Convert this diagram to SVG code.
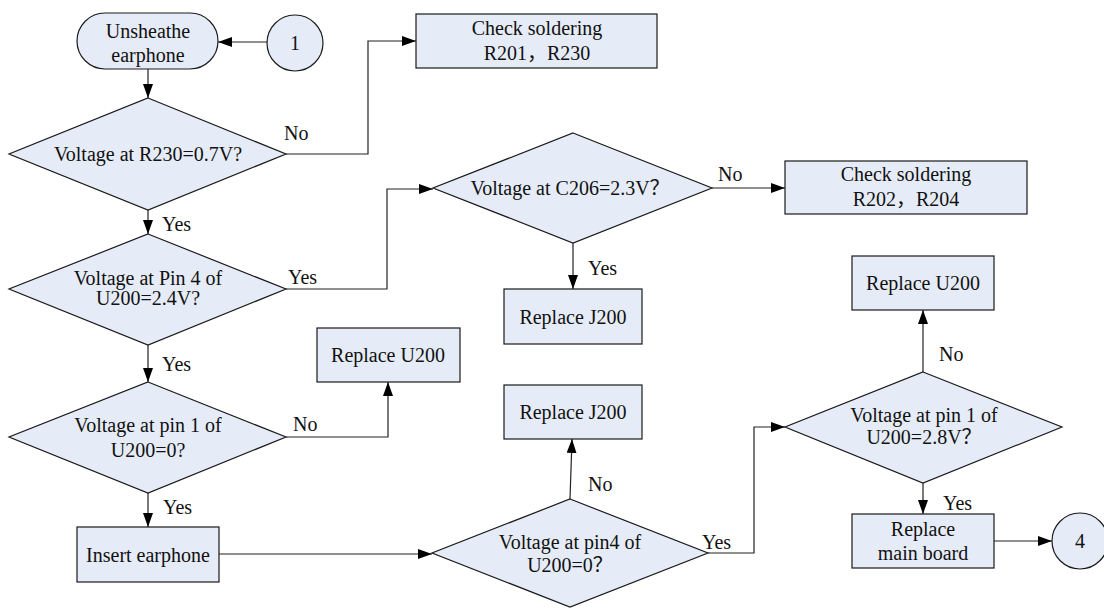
<svg xmlns="http://www.w3.org/2000/svg" width="1104" height="608" viewBox="0 0 1104 608">
<defs>
<style>
.n{fill:#e6ecf7;stroke:#1a1a1a;stroke-width:1.2}
.t{font-family:'Liberation Serif','Noto Sans CJK SC',serif;font-size:20px;fill:#111;text-anchor:middle;dominant-baseline:central}
.l{font-family:'Liberation Serif',serif;font-size:20px;fill:#111}
.c{fill:none;stroke:#222;stroke-width:1.2}
</style>
<marker id="a" viewBox="0 0 14 10" refX="14" refY="5" markerWidth="14" markerHeight="10" markerUnits="userSpaceOnUse" orient="auto">
<path d="M0,0 L14,5 L0,10 Z" fill="#000"/>
</marker>
</defs>
<rect width="1104" height="608" fill="#fff"/>
<g id="connectors">
<path class="c" d="M267,42 H218" marker-end="url(#a)"/>
<path class="c" d="M148,69 V98" marker-end="url(#a)"/>
<path class="c" d="M286,154 H368 V41 H416" marker-end="url(#a)"/>
<path class="c" d="M148,210 V234" marker-end="url(#a)"/>
<path class="c" d="M286,289 H387 V189 H433" marker-end="url(#a)"/>
<path class="c" d="M712,188 H785" marker-end="url(#a)"/>
<path class="c" d="M573,243 V289" marker-end="url(#a)"/>
<path class="c" d="M148,345 V382" marker-end="url(#a)"/>
<path class="c" d="M286,437 H388 V382" marker-end="url(#a)"/>
<path class="c" d="M148,493 V527" marker-end="url(#a)"/>
<path class="c" d="M219,554 H432" marker-end="url(#a)"/>
<path class="c" d="M570,499 L572,439" marker-end="url(#a)"/>
<path class="c" d="M708,553 H754 V427 H785" marker-end="url(#a)"/>
<path class="c" d="M923,372 V310" marker-end="url(#a)"/>
<path class="c" d="M923,483 V514" marker-end="url(#a)"/>
<path class="c" d="M994,541 H1052" marker-end="url(#a)"/>
</g>
<g font-family="Liberation Serif, Noto Sans CJK SC, serif">
<g id="start">
<rect class="n" x="77" y="13" width="141" height="56" rx="28"/>
<text class="t" x="148" y="31">Unsheathe</text>
<text class="t" x="148" y="55">earphone</text>
</g>
<g id="conn1">
<circle class="n" cx="295" cy="43" r="28"/>
<text class="t" x="295" y="43">1</text>
</g>
<g id="d1">
<polygon class="n" points="148,98 286,154 148,210 9,154"/>
<text class="t" x="148" y="154">Voltage at R230=0.7V?</text>
</g>
<g id="b1">
<rect class="n" x="416" y="14" width="241" height="54"/>
<text class="t" x="537" y="28">Check soldering</text>
<text class="t" x="537" y="53">R201，R230</text>
</g>
<g id="d2">
<polygon class="n" points="148,234 286,289 148,345 9,289"/>
<text class="t" x="148" y="278">Voltage at Pin 4 of</text>
<text class="t" x="148" y="298">U200=2.4V?</text>
</g>
<g id="d3">
<polygon class="n" points="573,133 712,188 573,243 433,188"/>
<text class="t" x="570" y="188">Voltage at C206=2.3V？</text>
</g>
<g id="b2">
<rect class="n" x="785" y="161" width="242" height="53"/>
<text class="t" x="906" y="174">Check soldering</text>
<text class="t" x="906" y="199">R202，R204</text>
</g>
<g id="b3">
<rect class="n" x="504" y="289" width="138" height="55"/>
<text class="t" x="573" y="317">Replace J200</text>
</g>
<g id="b4">
<rect class="n" x="317" y="328" width="143" height="54"/>
<text class="t" x="388" y="355">Replace U200</text>
</g>
<g id="d4">
<polygon class="n" points="148,382 286,437 148,493 9,437"/>
<text class="t" x="148" y="425">Voltage at pin 1 of</text>
<text class="t" x="148" y="450">U200=0?</text>
</g>
<g id="b5">
<rect class="n" x="77" y="527" width="142" height="55"/>
<text class="t" x="148" y="555">Insert earphone</text>
</g>
<g id="d5">
<polygon class="n" points="570,499 708,553 570,607 432,553"/>
<text class="t" x="570" y="542">Voltage at pin4 of</text>
<text class="t" x="570" y="565">U200=0？</text>
</g>
<g id="b6">
<rect class="n" x="504" y="385" width="138" height="54"/>
<text class="t" x="573" y="412">Replace J200</text>
</g>
<g id="d6">
<polygon class="n" points="923,372 1062,427 923,483 785,427"/>
<text class="t" x="924" y="415">Voltage at pin 1 of</text>
<text class="t" x="924" y="437">U200=2.8V？</text>
</g>
<g id="b7">
<rect class="n" x="852" y="256" width="142" height="54"/>
<text class="t" x="923" y="283">Replace U200</text>
</g>
<g id="b8">
<rect class="n" x="852" y="514" width="142" height="54"/>
<text class="t" x="923" y="529">Replace</text>
<text class="t" x="923" y="553">main board</text>
</g>
<g id="conn4">
<circle class="n" cx="1080" cy="541" r="28"/>
<text class="t" x="1080" y="541">4</text>
</g>
<g id="labels">
<text class="l" x="284" y="140">No</text>
<text class="l" x="162" y="231">Yes</text>
<text class="l" x="288" y="284">Yes</text>
<text class="l" x="718" y="181">No</text>
<text class="l" x="588" y="275">Yes</text>
<text class="l" x="162" y="371">Yes</text>
<text class="l" x="293" y="431">No</text>
<text class="l" x="163" y="514">Yes</text>
<text class="l" x="588" y="491">No</text>
<text class="l" x="702" y="549">Yes</text>
<text class="l" x="939" y="361">No</text>
<text class="l" x="943" y="510">Yes</text>
</g>
</g>
</svg>
